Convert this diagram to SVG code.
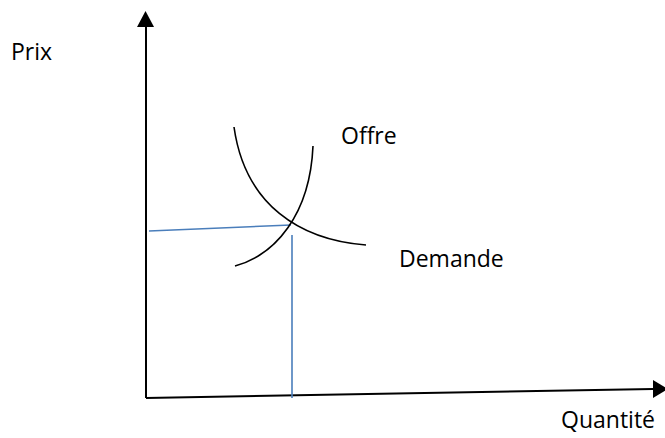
<svg xmlns="http://www.w3.org/2000/svg" width="665" height="438" viewBox="0 0 665 438">
<style>
.ax{stroke:#000;stroke-width:2;fill:none}
.cv{stroke:#000;stroke-width:1.6;fill:none}
.bl{stroke:#4a7ebb;stroke-width:1.6;fill:none}
text{font-family:"Open Sans","Liberation Sans",sans-serif;font-size:23px;fill:#000}
</style>
<g id="connectors">
<path class="ax" d="M146,398 L146,27"/>
<path d="M137,27 L145.5,11 L154,27 z" fill="#000"/>
<path class="ax" d="M146,398 L653,389"/>
<path d="M653,380 L668,389 L653,398 z" fill="#000"/>
<path class="bl" d="M149,231 L291,225"/>
<path class="bl" d="M292,235 L292,398"/>
</g>
<g id="demande-curve"><path class="cv" d="M234,127 C 245,205 300,240 366,245"/></g>
<g id="offre-curve"><path class="cv" d="M235,266 C 275,255 310,215 313,146"/></g>
<g id="prix"><text x="11" y="60">Prix</text></g>
<g id="offre"><text x="341" y="144">Offre</text></g>
<g id="demande"><text x="399" y="267">Demande</text></g>
<g id="quantite"><text x="561" y="428">Quantité</text></g>
</svg>
